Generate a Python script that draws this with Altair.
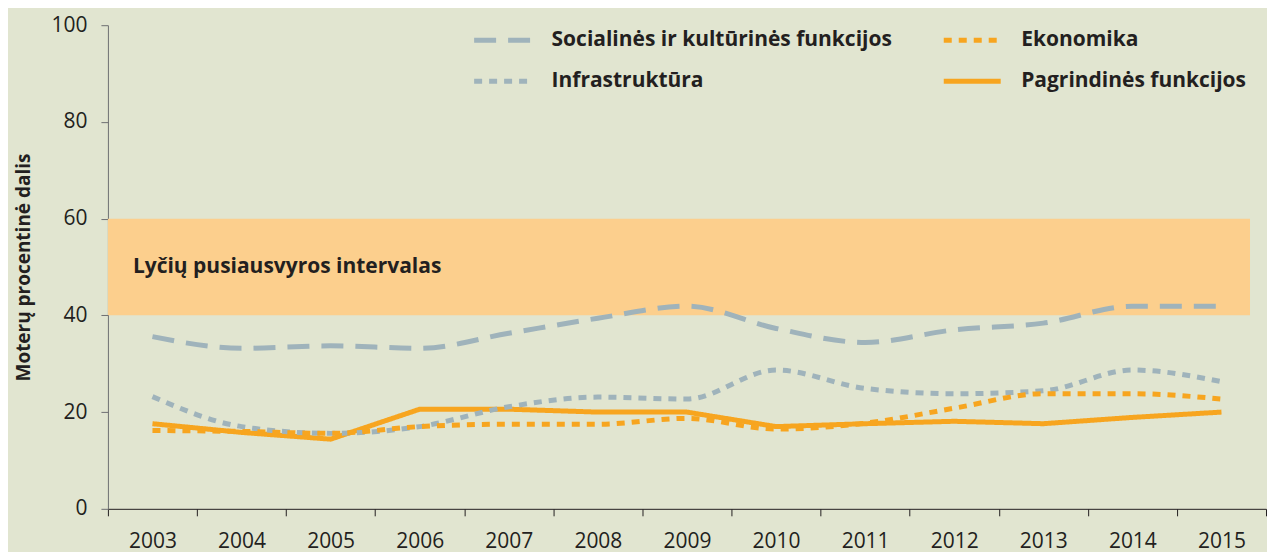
import altair as alt
import pandas as pd

years = [str(y) for y in range(2003, 2016)]
social = [35.6, 33.2, 33.7, 33.2, 36.3, 39.4, 41.9, 37.3, 34.4, 37.0, 38.4, 41.9, 41.9]
infra = [23.2, 17.0, 15.6, 17.0, 21.1, 23.1, 22.7, 28.7, 24.9, 23.8, 24.4, 28.7, 26.3]
ekon = [16.2, 16.0, 15.6, 17.0, 17.5, 17.5, 18.7, 16.5, 17.7, 20.8, 23.8, 23.8, 22.7]
pagr = [17.6, 15.8, 14.4, 20.6, 20.6, 20.0, 20.0, 17.0, 17.6, 18.1, 17.6, 18.9, 20.0]

series_names = ["Socialinės ir kultūrinės funkcijos", "Infrastruktūra",
                "Ekonomika", "Pagrindinės funkcijos"]
series_values = [social, infra, ekon, pagr]
series_colors = ["#9fb3bb", "#9fb3bb", "#f7a51f", "#f7a51f"]
series_dash = [[22, 12], [8, 7], [8, 7], [1, 0]]

band_low = [40]
band_high = [60]
band_label = ["Lyčių pusiausvyros intervalas"]
y_ticks = [0, 20, 40, 60, 80, 100]

rows = []
for name, vals in zip(series_names, series_values):
    for yr, v in zip(years, vals):
        rows.append({"metai": yr, "serija": name, "reiksme": v})
df = pd.DataFrame(rows)

band_df = pd.DataFrame({"lo": band_low, "hi": band_high, "txt": band_label,
                        "mid": [(a + b) / 2 for a, b in zip(band_low, band_high)]})

FONT = "Open Sans"
TXT = "#231f20"
W, H = 1159, 484

x_enc = alt.X("metai:O", sort=years,
              scale=alt.Scale(paddingInner=0, paddingOuter=0),
              axis=alt.Axis(title=None, labelAngle=0, tickBand="extent",
                            labelFont=FONT, labelFontSize=21, labelColor=TXT,
                            labelPadding=15, tickSize=7, tickColor=TXT,
                            domainColor=TXT, grid=False))
y_scale = alt.Scale(domain=[0, 100], nice=False)
y_enc = alt.Y("reiksme:Q", scale=y_scale,
              axis=alt.Axis(title="Moterų procentinė dalis", values=y_ticks,
                            titleFont=FONT, titleFontSize=19, titleFontWeight="bold",
                            titleColor=TXT, titlePadding=17,
                            labelFont=FONT, labelFontSize=21, labelColor=TXT,
                            labelPadding=14, tickSize=7, tickColor="#6d6e71",
                            domainColor="#6d6e71", grid=False))

legend_kw = dict(orient="none", legendX=364, legendY=-16,
                 columns=2, columnPadding=41, rowPadding=-17,
                 symbolType="stroke", symbolSize=3249,
                 symbolStrokeWidth=5, labelOffset=18,
                 labelFont=FONT, labelFontSize=21,
                 labelFontWeight="bold", labelColor=TXT,
                 labelLimit=700, padding=0)

color_enc = alt.Color("serija:N", title=None, sort=series_names,
                      scale=alt.Scale(domain=series_names, range=series_colors),
                      legend=alt.Legend(**legend_kw))
dash_enc = alt.StrokeDash("serija:N", title=None, sort=series_names,
                          scale=alt.Scale(domain=series_names, range=series_dash),
                          legend=alt.Legend(**legend_kw))

band = alt.Chart(band_df).mark_rect(color="#fccf8d").encode(
    x=alt.value(0), x2=alt.value(1143),
    y=alt.Y("lo:Q", scale=y_scale), y2="hi:Q")

band_text = alt.Chart(band_df).mark_text(
    align="left", baseline="middle", font=FONT, fontSize=21,
    fontWeight="bold", color=TXT).encode(
    x=alt.value(25), y=alt.Y("mid:Q", scale=y_scale), text="txt:N")

solid = alt.Chart(df).transform_filter(
    alt.datum.serija == "Pagrindinės funkcijos").mark_line(
    strokeWidth=5, strokeCap="butt", strokeJoin="round").encode(
    x=x_enc, y=y_enc, color=color_enc, strokeDash=dash_enc)

dashed = alt.Chart(df).transform_filter(
    alt.datum.serija != "Pagrindinės funkcijos").mark_line(
    strokeWidth=5, strokeCap="butt", interpolate="monotone").encode(
    x=x_enc, y=y_enc, color=color_enc, strokeDash=dash_enc)

chart = alt.layer(band, band_text, solid, dashed).properties(
    width=W, height=H,
    padding={"left": 6, "top": 1, "right": 0, "bottom": 0}
).configure(background="#e1e5d0").configure_view(stroke=None, fill="#e1e5d0")

chart.save("out.html", embed_options={"renderer": "svg", "actions": False})
